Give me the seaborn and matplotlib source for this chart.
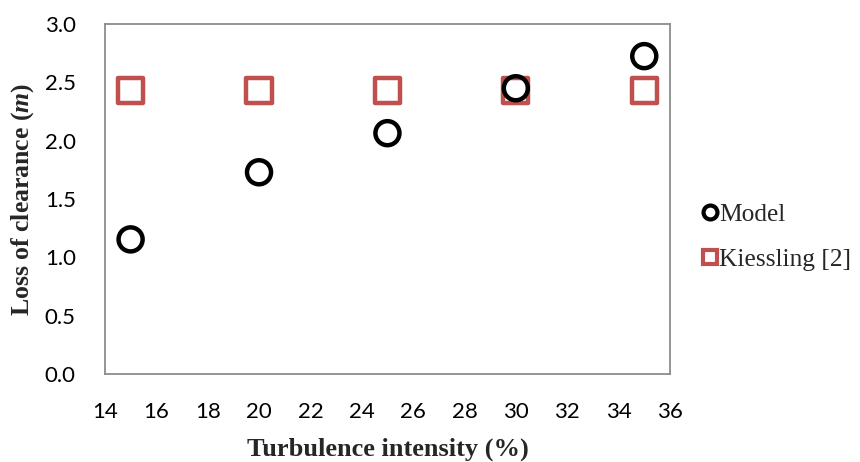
import matplotlib
matplotlib.use("Agg")
import matplotlib.pyplot as plt
import seaborn as sns
import pandas as pd
from matplotlib.lines import Line2D

turbulence = [15, 20, 25, 30, 35]
model_values = [1.155, 1.73, 2.065, 2.45, 2.725]
kiessling_values = [2.43, 2.43, 2.43, 2.43, 2.43]
series_names = ["Model", "Kiessling [2]"]
x_ticks = [14, 16, 18, 20, 22, 24, 26, 28, 30, 32, 34, 36]
y_ticks = [0.0, 0.5, 1.0, 1.5, 2.0, 2.5, 3.0]

df = pd.DataFrame({
    "x": turbulence * 2,
    "y": kiessling_values + model_values,
    "series": [series_names[1]] * 5 + [series_names[0]] * 5,
})

sns.set_theme(style="white")
plt.rcParams["font.family"] = ["Lato", "DejaVu Sans"]
plt.rcParams["mathtext.fontset"] = "custom"
plt.rcParams["mathtext.it"] = "Liberation Serif:italic:bold"
plt.rcParams["mathtext.rm"] = "Liberation Serif:bold"
plt.rcParams["mathtext.bf"] = "Liberation Serif:bold"

fig = plt.figure(figsize=(8.6, 4.62), dpi=100)
ax = fig.add_axes([0.122, 0.190, 0.657, 0.758])

sns.scatterplot(data=df[df.series == series_names[1]], x="x", y="y", ax=ax,
                marker="s", s=330, facecolor="none", edgecolor="#C0504D",
                linewidth=3.2, legend=False, zorder=2)
sns.scatterplot(data=df[df.series == series_names[0]], x="x", y="y", ax=ax,
                marker="o", s=300, facecolor="none", edgecolor="black",
                linewidth=3.2, legend=False, zorder=3)

ax.set_xlim(14, 36)
ax.set_ylim(0, 3.0)
ax.set_xticks(x_ticks)
ax.set_yticks(y_ticks)
ax.set_yticklabels([f"{v:.1f}" for v in y_ticks])
ax.tick_params(axis="both", length=0, labelsize=16, colors="#000000")
ax.tick_params(axis="x", pad=20)
ax.tick_params(axis="y", pad=21)
for sp in ax.spines.values():
    sp.set_color("#8c8c8c")
    sp.set_linewidth(1.3)

serif = ["Liberation Serif", "DejaVu Serif"]
ax.set_xlabel("Turbulence intensity (%)", family=serif, fontweight="bold",
              fontsize=19, labelpad=11)
ax.set_ylabel("Loss of clearance ($m$)", family=serif, fontweight="bold",
              fontsize=18.5, labelpad=6)

handles = [
    Line2D([], [], marker="o", linestyle="none", markersize=10, markerfacecolor="none",
           markeredgecolor="black", markeredgewidth=3.0, label=series_names[0]),
    Line2D([], [], marker="s", linestyle="none", markersize=10, markerfacecolor="none",
           markeredgecolor="#C0504D", markeredgewidth=3.0, label=series_names[1]),
]
fig.legend(handles=handles, loc="center left", bbox_to_anchor=(0.796, 0.487),
           frameon=False, prop={"family": serif, "size": 18.3}, handletextpad=-0.15,
           labelspacing=0.85, handlelength=1.0, borderpad=0.0)

fig.savefig("out.png", dpi=100)
